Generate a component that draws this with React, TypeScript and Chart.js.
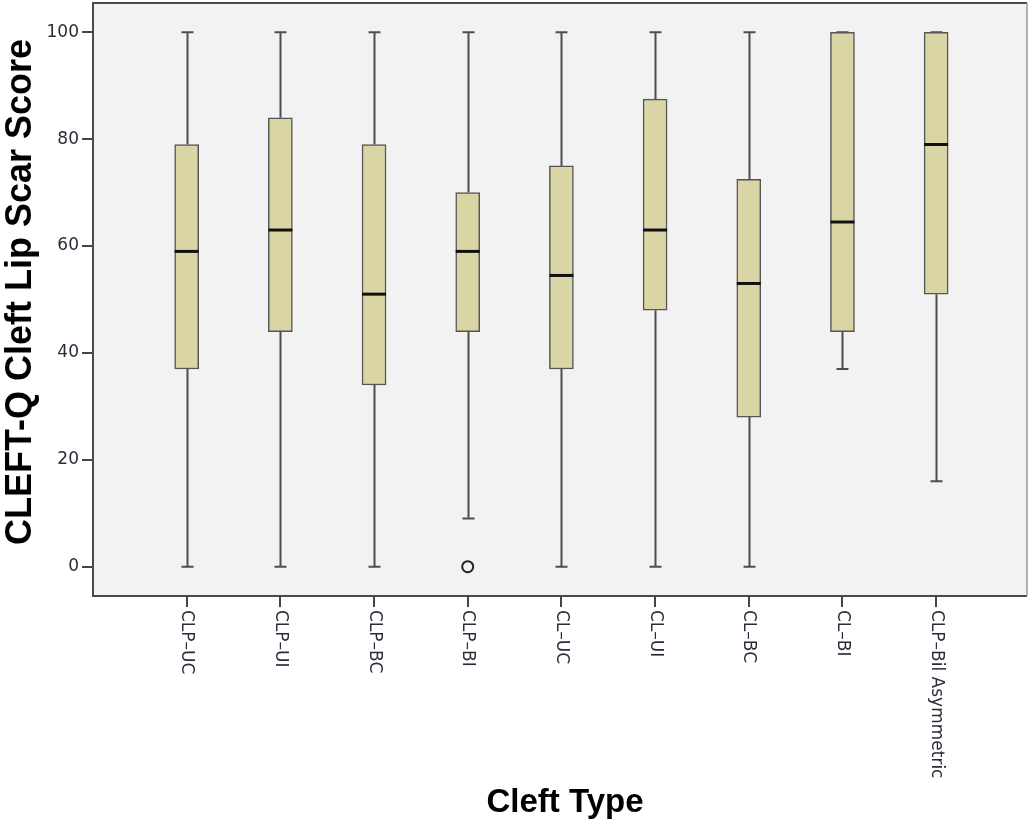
import React, { useEffect, useRef } from 'react';
import { Chart, registerables } from 'chart.js';

Chart.register(...registerables);

// ---- Data ----
const categories = [
  'CLP–UC',
  'CLP–UI',
  'CLP–BC',
  'CLP–BI',
  'CL–UC',
  'CL–UI',
  'CL–BC',
  'CL–BI',
  'CLP–Bil Asymmetric',
];
const whiskerLow = [0, 0, 0, 9, 0, 0, 0, 37, 16];
const q1 = [37, 44, 34, 44, 37, 48, 28, 44, 51];
const medians = [59, 63, 51, 59, 54.5, 63, 53, 64.5, 79];
const q3 = [79, 84, 79, 70, 75, 87.5, 72.5, 100, 100];
const whiskerHigh = [100, 100, 100, 100, 100, 100, 100, 100, 100];
const outlierCats = [3];
const outlierValues = [0];
const yTicks = [0, 20, 40, 60, 80, 100];

const xTitle = 'Cleft Type';
const yTitle = 'CLEFT-Q Cleft Lip Scar Score';

const BOX_FILL = '#DAD5A4';
const LINE = '#4d4d4d';

const boxPlugin = {
  id: 'boxplotExtras',
  beforeDraw(chart: any) {
    const { ctx, chartArea: a } = chart;
    ctx.save();
    ctx.fillStyle = '#F2F2F2';
    ctx.fillRect(a.left, a.top, a.right - a.left, a.bottom - a.top);
    ctx.restore();
  },
  beforeDatasetsDraw(chart: any) {
    const { ctx } = chart;
    const xs = chart.scales.x;
    const ys = chart.scales.y;
    ctx.save();
    ctx.strokeStyle = LINE;
    ctx.lineWidth = 2;
    categories.forEach((_, i) => {
      const x = Math.round(xs.getPixelForValue(i)) + 0.5;
      const yLo = ys.getPixelForValue(whiskerLow[i]);
      const yQ1 = ys.getPixelForValue(q1[i]);
      const yQ3 = ys.getPixelForValue(q3[i]);
      const yHi = ys.getPixelForValue(whiskerHigh[i]);
      ctx.beginPath();
      ctx.moveTo(x, yQ1);
      ctx.lineTo(x, yLo);
      ctx.moveTo(x, yQ3);
      ctx.lineTo(x, yHi);
      ctx.moveTo(x - 6, yLo);
      ctx.lineTo(x + 6, yLo);
      ctx.moveTo(x - 6, yHi);
      ctx.lineTo(x + 6, yHi);
      ctx.stroke();
    });
    ctx.restore();
  },
  afterDatasetsDraw(chart: any) {
    const { ctx, chartArea: a } = chart;
    const xs = chart.scales.x;
    const ys = chart.scales.y;
    ctx.save();
    ctx.strokeStyle = '#111';
    ctx.lineWidth = 3;
    categories.forEach((_, i) => {
      const x = xs.getPixelForValue(i);
      const y = ys.getPixelForValue(medians[i]);
      ctx.beginPath();
      ctx.moveTo(x - 12, y);
      ctx.lineTo(x + 12, y);
      ctx.stroke();
    });
    // plot frame
    ctx.lineWidth = 2;
    ctx.strokeStyle = '#4a4a4a';
    ctx.beginPath();
    ctx.moveTo(a.right, a.top);
    ctx.lineTo(a.left, a.top);
    ctx.lineTo(a.left, a.bottom);
    ctx.lineTo(a.right, a.bottom);
    ctx.stroke();
    ctx.strokeStyle = '#9a9a9a';
    ctx.lineWidth = 1.5;
    ctx.beginPath();
    ctx.moveTo(a.right, a.top);
    ctx.lineTo(a.right, a.bottom);
    ctx.stroke();
    ctx.restore();
  },
  afterDraw(chart: any) {
    const { ctx, chartArea: a } = chart;
    const xs = chart.scales.x;
    ctx.save();
    // rotated category labels (reading top to bottom)
    ctx.fillStyle = '#2b2b3a';
    ctx.font = '17px "DejaVu Sans"';
    ctx.textAlign = 'left';
    ctx.textBaseline = 'middle';
    categories.forEach((label, i) => {
      const x = xs.getPixelForValue(i);
      ctx.save();
      ctx.translate(x, a.bottom + 14);
      ctx.rotate(Math.PI / 2);
      ctx.fillText(label, 0, 0);
      ctx.restore();
    });
    // axis titles
    ctx.fillStyle = '#000';
    ctx.font = 'bold 33px "Liberation Sans", Arial, sans-serif';
    ctx.textAlign = 'center';
    ctx.textBaseline = 'middle';
    ctx.fillText(xTitle, 565, 803);
    ctx.save();
    ctx.translate(21, 292);
    ctx.rotate(-Math.PI / 2);
    ctx.font = 'bold 36px "Liberation Sans", Arial, sans-serif';
    ctx.fillText(yTitle, 0, 0);
    ctx.restore();
    ctx.restore();
  },
};

export default function App() {
  const canvasRef = useRef<HTMLCanvasElement | null>(null);

  useEffect(() => {
    document.body.style.margin = '0';
    const canvas = canvasRef.current;
    if (!canvas) return;

    const boxData = categories.map((_, i) => ({ x: i, y: [q1[i], q3[i]] }));
    const outlierData = outlierCats.map((c, k) => ({ x: c, y: outlierValues[k] }));

    const chart = new Chart(canvas, {
      type: 'bar',
      data: {
        datasets: [
          {
            type: 'bar',
            label: 'box',
            data: boxData as any,
            backgroundColor: BOX_FILL,
            borderColor: '#555',
            borderWidth: 1.5,
            borderSkipped: false,
            barThickness: 24,
          } as any,
          {
            type: 'scatter',
            label: 'outliers',
            data: outlierData,
            pointStyle: 'circle',
            pointRadius: 5.5,
            pointBorderWidth: 2,
            pointBorderColor: '#222',
            pointBackgroundColor: 'rgba(0,0,0,0)',
          } as any,
        ],
      },
      plugins: [boxPlugin],
      options: {
        animation: false,
        responsive: false,
        devicePixelRatio: 1,
        layout: { autoPadding: false, padding: { top: 3, right: 2, left: 0, bottom: 0 } },
        plugins: {
          legend: { display: false },
          tooltip: { enabled: false },
          title: { display: false },
        },
        scales: {
          x: {
            type: 'linear',
            offset: false,
            min: -1.0,
            max: 8.97,
            afterBuildTicks: (s: any) => {
              s.ticks = categories.map((_, i) => ({ value: i }));
            },
            afterFit: (s: any) => {
              s.height = 822 - 596 - 0;
              s.paddingLeft = 0;
              s.paddingRight = 0;
            },
            ticks: { display: false },
            grid: {
              offset: false,
              drawOnChartArea: false,
              drawTicks: true,
              tickLength: 11,
              color: '#444',
              lineWidth: 2,
            },
            border: { display: false },
          },
          y: {
            type: 'linear',
            min: -5.48,
            max: 105.48,
            afterBuildTicks: (s: any) => {
              s.ticks = yTicks.map((v) => ({ value: v }));
            },
            afterFit: (s: any) => {
              s.width = 93;
              s.paddingTop = 0;
              s.paddingBottom = 0;
            },
            ticks: {
              color: '#2b2b3a',
              font: { family: '"DejaVu Sans"', size: 17 },
              padding: 3,
            },
            grid: {
              drawOnChartArea: false,
              drawTicks: true,
              tickLength: 11,
              color: '#444',
              lineWidth: 2,
            },
            border: { display: false },
          },
        },
      } as any,
    });

    return () => chart.destroy();
  }, []);

  return (
    <div style={{ width: 1029, height: 822, background: '#fff' }}>
      <canvas ref={canvasRef} width={1029} height={822} style={{ width: 1029, height: 822, display: 'block' }} />
    </div>
  );
}
